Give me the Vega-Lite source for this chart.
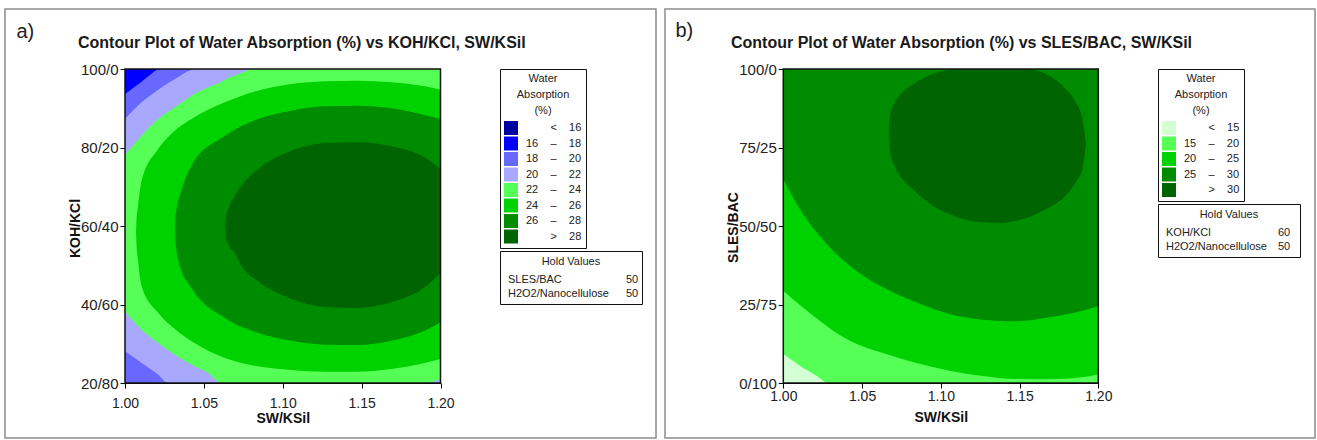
{
  "$schema": "https://vega.github.io/schema/vega-lite/v6.json",
  "background": "white",
  "padding": {"left": 4, "top": 8, "right": 0, "bottom": 0},
  "spacing": 7,
  "resolve": {
    "scale": {"x": "independent", "y": "independent", "color": "independent", "shape": "independent", "strokeDash": "independent"},
    "axis": {"x": "independent", "y": "independent"},
    "legend": {"color": "independent", "shape": "independent", "strokeDash": "independent"}
  },
  "config": {
    "font": "Liberation Sans",
    "view": {"fill": "#eeeae1", "stroke": "#8c8c8c", "strokeWidth": 1.5},
    "axis": {"domainColor": "#000", "tickColor": "#000", "domainWidth": 1, "tickWidth": 1, "labelColor": "#222", "titleColor": "#111", "grid": false}
  },
  "datasets": {
    "contA": [
      {"band": "16 \u2013 18", "sw": 1.0, "lo": 20, "hi": 100},
      {"band": "16 \u2013 18", "sw": 1.2, "lo": 20, "hi": 100},
      {"band": "18 \u2013 20", "sw": 1.0, "lo": 20, "hi": 93.63},
      {"band": "18 \u2013 20", "sw": 1.0053, "lo": 20, "hi": 95.24},
      {"band": "18 \u2013 20", "sw": 1.0105, "lo": 20, "hi": 96.77},
      {"band": "18 \u2013 20", "sw": 1.0158, "lo": 20, "hi": 98.47},
      {"band": "18 \u2013 20", "sw": 1.0222, "lo": 20, "hi": 100},
      {"band": "18 \u2013 20", "sw": 1.2, "lo": 20, "hi": 100},
      {"band": "20 \u2013 22", "sw": 1.0, "lo": 28.07, "hi": 87.26},
      {"band": "20 \u2013 22", "sw": 1.0105, "lo": 25.1, "hi": 91.51},
      {"band": "20 \u2013 22", "sw": 1.0211, "lo": 22.12, "hi": 94.73},
      {"band": "20 \u2013 22", "sw": 1.0274, "lo": 20, "hi": 96.43},
      {"band": "20 \u2013 22", "sw": 1.0316, "lo": 20, "hi": 97.45},
      {"band": "20 \u2013 22", "sw": 1.0454, "lo": 20, "hi": 100},
      {"band": "20 \u2013 22", "sw": 1.2, "lo": 20, "hi": 100},
      {"band": "22 \u2013 24", "sw": 1.0, "lo": 38.26, "hi": 78.09},
      {"band": "22 \u2013 24", "sw": 1.0105, "lo": 33.59, "hi": 83.01},
      {"band": "22 \u2013 24", "sw": 1.0211, "lo": 30.19, "hi": 87.26},
      {"band": "22 \u2013 24", "sw": 1.0316, "lo": 27.22, "hi": 90.23},
      {"band": "22 \u2013 24", "sw": 1.0422, "lo": 24.67, "hi": 93.21},
      {"band": "22 \u2013 24", "sw": 1.0527, "lo": 22.55, "hi": 95.33},
      {"band": "22 \u2013 24", "sw": 1.0612, "lo": 20, "hi": 96.77},
      {"band": "22 \u2013 24", "sw": 1.0633, "lo": 20, "hi": 97.28},
      {"band": "22 \u2013 24", "sw": 1.0738, "lo": 20, "hi": 98.98},
      {"band": "22 \u2013 24", "sw": 1.0812, "lo": 20, "hi": 100},
      {"band": "22 \u2013 24", "sw": 1.1899, "lo": 20, "hi": 100},
      {"band": "22 \u2013 24", "sw": 1.2, "lo": 21.02, "hi": 100},
      {"band": "24 \u2013 26", "sw": 1.007, "lo": 58.39, "hi": 58.39},
      {"band": "24 \u2013 26", "sw": 1.0074, "lo": 54.39, "hi": 62.21},
      {"band": "24 \u2013 26", "sw": 1.008, "lo": 52.02, "hi": 64.33},
      {"band": "24 \u2013 26", "sw": 1.0105, "lo": 44.8, "hi": 71.55},
      {"band": "24 \u2013 26", "sw": 1.0211, "lo": 37.83, "hi": 79.62},
      {"band": "24 \u2013 26", "sw": 1.0316, "lo": 33.76, "hi": 84.29},
      {"band": "24 \u2013 26", "sw": 1.0422, "lo": 30.61, "hi": 87.26},
      {"band": "24 \u2013 26", "sw": 1.0633, "lo": 26.37, "hi": 91.51},
      {"band": "24 \u2013 26", "sw": 1.0844, "lo": 24.24, "hi": 94.48},
      {"band": "24 \u2013 26", "sw": 1.1055, "lo": 23.31, "hi": 96.18},
      {"band": "24 \u2013 26", "sw": 1.1266, "lo": 22.89, "hi": 96.86},
      {"band": "24 \u2013 26", "sw": 1.1477, "lo": 22.89, "hi": 97.03},
      {"band": "24 \u2013 26", "sw": 1.1688, "lo": 23.57, "hi": 96.6},
      {"band": "24 \u2013 26", "sw": 1.1899, "lo": 25.1, "hi": 95.58},
      {"band": "24 \u2013 26", "sw": 1.2, "lo": 26.11, "hi": 94.73},
      {"band": "26 \u2013 28", "sw": 1.0316, "lo": 59.24, "hi": 59.24},
      {"band": "26 \u2013 28", "sw": 1.0318, "lo": 57.11, "hi": 61.36},
      {"band": "26 \u2013 28", "sw": 1.0327, "lo": 53.71, "hi": 64.33},
      {"band": "26 \u2013 28", "sw": 1.0348, "lo": 49.89, "hi": 67.73},
      {"band": "26 \u2013 28", "sw": 1.0422, "lo": 44.2, "hi": 75.37},
      {"band": "26 \u2013 28", "sw": 1.0633, "lo": 36.56, "hi": 83.01},
      {"band": "26 \u2013 28", "sw": 1.0844, "lo": 32.74, "hi": 87.26},
      {"band": "26 \u2013 28", "sw": 1.1055, "lo": 30.78, "hi": 89.38},
      {"band": "26 \u2013 28", "sw": 1.1266, "lo": 29.77, "hi": 90.49},
      {"band": "26 \u2013 28", "sw": 1.1477, "lo": 29.68, "hi": 90.66},
      {"band": "26 \u2013 28", "sw": 1.1688, "lo": 30.78, "hi": 89.98},
      {"band": "26 \u2013 28", "sw": 1.1899, "lo": 33.33, "hi": 88.28},
      {"band": "26 \u2013 28", "sw": 1.2, "lo": 35.46, "hi": 87.26},
      {"band": "> 28", "sw": 1.0633, "lo": 59.91, "hi": 59.91},
      {"band": "> 28", "sw": 1.0639, "lo": 57.54, "hi": 62.21},
      {"band": "> 28", "sw": 1.0654, "lo": 55.41, "hi": 64.33},
      {"band": "> 28", "sw": 1.0696, "lo": 53.12, "hi": 67.73},
      {"band": "> 28", "sw": 1.0738, "lo": 49.89, "hi": 70.28},
      {"band": "> 28", "sw": 1.0844, "lo": 45.9, "hi": 74.52},
      {"band": "> 28", "sw": 1.1055, "lo": 41.4, "hi": 79.19},
      {"band": "> 28", "sw": 1.1266, "lo": 39.36, "hi": 81.15},
      {"band": "> 28", "sw": 1.1477, "lo": 39.11, "hi": 81.32},
      {"band": "> 28", "sw": 1.1688, "lo": 40.55, "hi": 80.3},
      {"band": "> 28", "sw": 1.1899, "lo": 44.37, "hi": 77.49},
      {"band": "> 28", "sw": 1.2, "lo": 48.02, "hi": 74.52}
    ],
    "contB": [
      {"band": "< 15", "sw": 1.0, "lo": 0, "hi": 100},
      {"band": "< 15", "sw": 1.2, "lo": 0, "hi": 100},
      {"band": "15 \u2013 20", "sw": 1.0, "lo": 9.23, "hi": 100},
      {"band": "15 \u2013 20", "sw": 1.0053, "lo": 7.32, "hi": 100},
      {"band": "15 \u2013 20", "sw": 1.0105, "lo": 5.52, "hi": 100},
      {"band": "15 \u2013 20", "sw": 1.0211, "lo": 2.34, "hi": 100},
      {"band": "15 \u2013 20", "sw": 1.0285, "lo": 0, "hi": 100},
      {"band": "15 \u2013 20", "sw": 1.2, "lo": 0, "hi": 100},
      {"band": "20 \u2013 25", "sw": 1.0, "lo": 29.4, "hi": 100},
      {"band": "20 \u2013 25", "sw": 1.0105, "lo": 24.84, "hi": 100},
      {"band": "20 \u2013 25", "sw": 1.0211, "lo": 20.59, "hi": 100},
      {"band": "20 \u2013 25", "sw": 1.0316, "lo": 16.67, "hi": 100},
      {"band": "20 \u2013 25", "sw": 1.0422, "lo": 13.48, "hi": 100},
      {"band": "20 \u2013 25", "sw": 1.0633, "lo": 9.55, "hi": 100},
      {"band": "20 \u2013 25", "sw": 1.0844, "lo": 6.37, "hi": 100},
      {"band": "20 \u2013 25", "sw": 1.1055, "lo": 3.93, "hi": 100},
      {"band": "20 \u2013 25", "sw": 1.1266, "lo": 2.23, "hi": 100},
      {"band": "20 \u2013 25", "sw": 1.1477, "lo": 1.27, "hi": 100},
      {"band": "20 \u2013 25", "sw": 1.1688, "lo": 1.17, "hi": 100},
      {"band": "20 \u2013 25", "sw": 1.1899, "lo": 1.8, "hi": 100},
      {"band": "20 \u2013 25", "sw": 1.2, "lo": 2.76, "hi": 100},
      {"band": "25 \u2013 30", "sw": 1.0, "lo": 64.97, "hi": 100},
      {"band": "25 \u2013 30", "sw": 1.0105, "lo": 55.41, "hi": 100},
      {"band": "25 \u2013 30", "sw": 1.0211, "lo": 47.98, "hi": 100},
      {"band": "25 \u2013 30", "sw": 1.0316, "lo": 42.14, "hi": 100},
      {"band": "25 \u2013 30", "sw": 1.0422, "lo": 37.37, "hi": 100},
      {"band": "25 \u2013 30", "sw": 1.0633, "lo": 30.47, "hi": 100},
      {"band": "25 \u2013 30", "sw": 1.0844, "lo": 25.69, "hi": 100},
      {"band": "25 \u2013 30", "sw": 1.1055, "lo": 21.97, "hi": 100},
      {"band": "25 \u2013 30", "sw": 1.1266, "lo": 20.17, "hi": 100},
      {"band": "25 \u2013 30", "sw": 1.1477, "lo": 19.64, "hi": 100},
      {"band": "25 \u2013 30", "sw": 1.1688, "lo": 20.91, "hi": 100},
      {"band": "25 \u2013 30", "sw": 1.1899, "lo": 23.03, "hi": 100},
      {"band": "25 \u2013 30", "sw": 1.2, "lo": 24.41, "hi": 100},
      {"band": "> 30", "sw": 1.0671, "lo": 79.83, "hi": 79.83},
      {"band": "> 30", "sw": 1.0675, "lo": 75.58, "hi": 84.08},
      {"band": "> 30", "sw": 1.0696, "lo": 70.28, "hi": 88.32},
      {"band": "> 30", "sw": 1.0844, "lo": 60.72, "hi": 95.75},
      {"band": "> 30", "sw": 1.0949, "lo": 56.47, "hi": 98.41},
      {"band": "> 30", "sw": 1.1055, "lo": 53.82, "hi": 99.68},
      {"band": "> 30", "sw": 1.116, "lo": 52.02, "hi": 100},
      {"band": "> 30", "sw": 1.1266, "lo": 51.17, "hi": 100},
      {"band": "> 30", "sw": 1.1371, "lo": 50.95, "hi": 100},
      {"band": "> 30", "sw": 1.1477, "lo": 51.7, "hi": 100},
      {"band": "> 30", "sw": 1.1582, "lo": 53.29, "hi": 99.79},
      {"band": "> 30", "sw": 1.1688, "lo": 55.94, "hi": 97.88},
      {"band": "> 30", "sw": 1.1793, "lo": 59.66, "hi": 93.63},
      {"band": "> 30", "sw": 1.1857, "lo": 63.91, "hi": 89.38},
      {"band": "> 30", "sw": 1.1899, "lo": 68.15, "hi": 84.08},
      {"band": "> 30", "sw": 1.1911, "lo": 71.87, "hi": 80.36},
      {"band": "> 30", "sw": 1.1922, "lo": 76.11, "hi": 76.11}
    ],
    "holdA": [
      {"row": 1, "hold": "SLES/BAC", "value": 50},
      {"row": 2, "hold": "H2O2/Nanocellulose", "value": 50}
    ],
    "holdB": [
      {"row": 1, "hold": "KOH/KCl", "value": 60},
      {"row": 2, "hold": "H2O2/Nanocellulose", "value": 50}
    ]
  },
  "hconcat": [
    {
      "width": 651,
      "height": 429,
      "title": {"text": "Contour Plot of Water Absorption (%) vs KOH/KCl, SW/KSil", "anchor": "start", "frame": "group", "dx": 73, "offset": -55, "baseline": "alphabetic", "fontSize": 16, "fontWeight": "bold", "color": "#1a1a1a"},
      "resolve": {"axis": {"x": "independent"}},
      "layer": [
        {
          "data": {"name": "contA"},
          "encoding": {
            "x": {"field": "sw", "type": "quantitative", "scale": {"domain": [1, 1.2], "range": [120, 435.5], "nice": false, "zero": false},
              "axis": {"orient": "bottom", "values": [1, 1.05, 1.1, 1.15, 1.2], "format": ".2f", "title": "SW/KSil", "offset": -55, "tickSize": 5, "labelPadding": 8, "labelFontSize": 14, "labelFlush": false, "labelOverlap": false, "titleFontSize": 14, "titleFontWeight": "bold", "titleY": 35, "titleBaseline": "middle"}},
            "y": {"field": "hi", "type": "quantitative", "scale": {"domain": [20, 100], "range": [374, 60], "nice": false, "zero": false},
              "axis": {"values": [20, 40, 60, 80, 100], "labelExpr": "datum.value + '/' + (100 - datum.value)", "title": "KOH/KCl", "offset": -120, "tickSize": 5, "labelPadding": 2, "labelFontSize": 15, "labelFlush": false, "labelOverlap": false, "titleFontSize": 14, "titleFontWeight": "bold", "titleX": -50, "titleY": 219, "titleBaseline": "middle"}},
            "y2": {"field": "lo"},
            "color": {"field": "band", "type": "nominal",
              "scale": {"domain": ["< 16", "16 \u2013 18", "18 \u2013 20", "20 \u2013 22", "22 \u2013 24", "24 \u2013 26", "26 \u2013 28", "> 28"],
                "range": ["#0000a0", "#0000ff", "#6868ff", "#a8a8ff", "#55ff55", "#00d200", "#008c00", "#006400"]},
              "legend": {"orient": "none", "legendX": 495, "legendY": 60, "title": ["Water", "Absorption", "(%)"], "titleFontSize": 11, "titleFontWeight": "normal", "titleAlign": "center", "titleAnchor": "middle", "titleLineHeight": 16, "titlePadding": 5, "titleColor": "#222", "fillColor": "white", "strokeColor": "#111", "padding": 4, "symbolType": "square", "symbolSize": 196, "symbolStrokeWidth": 0, "symbolOpacity": 1, "rowPadding": 1.5, "labelOffset": 8, "labelFontSize": 11, "labelColor": "#222",
                "labelExpr": "replace(replace(replace(datum.label, '< ', '\u200b\u00a0\u00a0\u00a0\u00a0\u00a0\u00a0\u00a0\u00a0<\u00a0\u00a0\u00a0\u00a0'), '> ', '\u200b\u00a0\u00a0\u00a0\u00a0\u00a0\u00a0\u00a0\u00a0>\u00a0\u00a0\u00a0\u00a0'), regexp(' ', 'g'), '\u00a0\u00a0\u00a0\u00a0')"}}
          },
          "layer": [
            {"transform": [{"filter": {"field": "band", "equal": "16 \u2013 18"}}], "mark": {"type": "area", "interpolate": "monotone", "opacity": 1}},
            {"transform": [{"filter": {"field": "band", "equal": "18 \u2013 20"}}], "mark": {"type": "area", "interpolate": "monotone", "opacity": 1}},
            {"transform": [{"filter": {"field": "band", "equal": "20 \u2013 22"}}], "mark": {"type": "area", "interpolate": "monotone", "opacity": 1}},
            {"transform": [{"filter": {"field": "band", "equal": "22 \u2013 24"}}], "mark": {"type": "area", "interpolate": "monotone", "opacity": 1}},
            {"transform": [{"filter": {"field": "band", "equal": "24 \u2013 26"}}], "mark": {"type": "area", "interpolate": "monotone", "opacity": 1}},
            {"transform": [{"filter": {"field": "band", "equal": "26 \u2013 28"}}], "mark": {"type": "area", "interpolate": "monotone", "opacity": 1}},
            {"transform": [{"filter": {"field": "band", "equal": "> 28"}}], "mark": {"type": "area", "interpolate": "monotone", "opacity": 1}}
          ]
        },
        {
          "data": {"values": [{}]},
          "mark": {"type": "rect", "filled": false, "stroke": "#111", "strokeWidth": 1.5},
          "encoding": {
            "x": {"datum": 1, "type": "quantitative", "axis": {"orient": "top", "title": "a)", "domain": false, "ticks": false, "labels": false, "grid": false, "titleX": 11, "titleY": 28, "titleAngle": 0, "titleAlign": "left", "titleBaseline": "alphabetic", "titleFontSize": 20, "titleFontWeight": "normal", "titleColor": "#222"}},
            "x2": {"datum": 1.2},
            "y": {"datum": 20, "type": "quantitative"},
            "y2": {"datum": 100}
          }
        },
        {
          "data": {"name": "holdA"},
          "mark": {"type": "point", "opacity": 0},
          "encoding": {
            "shape": {"field": "hold", "type": "nominal", "sort": null,
              "legend": {"orient": "none", "legendX": 495, "legendY": 242, "title": "\u200b\u00a0\u00a0\u00a0\u00a0\u00a0\u00a0\u00a0\u00a0\u00a0\u00a0\u00a0\u00a0Hold Values\u00a0\u00a0\u00a0\u00a0\u00a0\u00a0\u00a0\u00a0\u00a0\u00a0\u00a0\u00a0\u200b", "titleFontSize": 11, "titleFontWeight": "normal", "titleAnchor": "start", "titleAlign": "left", "titlePadding": 7, "titleColor": "#222", "fillColor": "white", "strokeColor": "#111", "padding": 5, "symbolSize": 0, "symbolOpacity": 0, "symbolStrokeWidth": 0, "labelOffset": -8, "labelFontSize": 11, "labelColor": "#222", "rowPadding": 2}},
            "strokeDash": {"field": "row", "type": "ordinal",
              "legend": {"orient": "none", "legendX": 613, "legendY": 260, "title": null, "padding": 5, "symbolSize": 0, "symbolOpacity": 0, "symbolStrokeWidth": 0, "labelOffset": -8, "labelFontSize": 11, "labelColor": "#222", "rowPadding": 2,
                "labelExpr": "data('holdA')[datum.value - 1].value"}}
          }
        }
      ]
    },
    {
      "width": 650,
      "height": 429,
      "title": {"text": "Contour Plot of Water Absorption (%) vs SLES/BAC, SW/KSil", "anchor": "start", "frame": "group", "dx": 66, "offset": -55, "baseline": "alphabetic", "fontSize": 16, "fontWeight": "bold", "color": "#1a1a1a"},
      "resolve": {"axis": {"x": "independent"}},
      "layer": [
        {
          "data": {"name": "contB"},
          "encoding": {
            "x": {"field": "sw", "type": "quantitative", "scale": {"domain": [1, 1.2], "range": [118.3, 433.3], "nice": false, "zero": false},
              "axis": {"orient": "bottom", "values": [1, 1.05, 1.1, 1.15, 1.2], "format": ".2f", "title": "SW/KSil", "offset": -55, "tickSize": 5, "labelPadding": 1, "labelFontSize": 14, "labelFlush": false, "labelOverlap": false, "titleFontSize": 14, "titleFontWeight": "bold", "titleY": 34.5, "titleBaseline": "middle"}},
            "y": {"field": "hi", "type": "quantitative", "scale": {"domain": [0, 100], "range": [374, 60], "nice": false, "zero": false},
              "axis": {"values": [0, 25, 50, 75, 100], "labelExpr": "datum.value + '/' + (100 - datum.value)", "title": "SLES/BAC", "offset": -118.3, "tickSize": 5, "labelPadding": 2, "labelFontSize": 15, "labelFlush": false, "labelOverlap": false, "titleFontSize": 14, "titleFontWeight": "bold", "titleX": -50, "titleY": 218, "titleBaseline": "middle"}},
            "y2": {"field": "lo"},
            "color": {"field": "band", "type": "nominal",
              "scale": {"domain": ["< 15", "15 \u2013 20", "20 \u2013 25", "25 \u2013 30", "> 30"],
                "range": ["#d4ffd4", "#55ff55", "#00d200", "#008c00", "#006400"]},
              "legend": {"orient": "none", "legendX": 493, "legendY": 60, "title": ["Water", "Absorption", "(%)"], "titleFontSize": 11, "titleFontWeight": "normal", "titleAlign": "center", "titleAnchor": "middle", "titleLineHeight": 16, "titlePadding": 5, "titleColor": "#222", "fillColor": "white", "strokeColor": "#111", "padding": 4, "symbolType": "square", "symbolSize": 196, "symbolStrokeWidth": 0, "symbolOpacity": 1, "rowPadding": 1.5, "labelOffset": 8, "labelFontSize": 11, "labelColor": "#222",
                "labelExpr": "replace(replace(replace(datum.label, '< ', '\u200b\u00a0\u00a0\u00a0\u00a0\u00a0\u00a0\u00a0\u00a0<\u00a0\u00a0\u00a0\u00a0'), '> ', '\u200b\u00a0\u00a0\u00a0\u00a0\u00a0\u00a0\u00a0\u00a0>\u00a0\u00a0\u00a0\u00a0'), regexp(' ', 'g'), '\u00a0\u00a0\u00a0\u00a0')"}}
          },
          "layer": [
            {"transform": [{"filter": {"field": "band", "equal": "< 15"}}], "mark": {"type": "area", "interpolate": "monotone", "opacity": 1}},
            {"transform": [{"filter": {"field": "band", "equal": "15 \u2013 20"}}], "mark": {"type": "area", "interpolate": "monotone", "opacity": 1}},
            {"transform": [{"filter": {"field": "band", "equal": "20 \u2013 25"}}], "mark": {"type": "area", "interpolate": "monotone", "opacity": 1}},
            {"transform": [{"filter": {"field": "band", "equal": "25 \u2013 30"}}], "mark": {"type": "area", "interpolate": "monotone", "opacity": 1}},
            {"transform": [{"filter": {"field": "band", "equal": "> 30"}}], "mark": {"type": "area", "interpolate": "monotone", "opacity": 1}}
          ]
        },
        {
          "data": {"values": [{}]},
          "mark": {"type": "rect", "filled": false, "stroke": "#111", "strokeWidth": 1.5},
          "encoding": {
            "x": {"datum": 1, "type": "quantitative", "axis": {"orient": "top", "title": "b)", "domain": false, "ticks": false, "labels": false, "grid": false, "titleX": 10, "titleY": 27, "titleAngle": 0, "titleAlign": "left", "titleBaseline": "alphabetic", "titleFontSize": 20, "titleFontWeight": "normal", "titleColor": "#222"}},
            "x2": {"datum": 1.2},
            "y": {"datum": 0, "type": "quantitative"},
            "y2": {"datum": 100}
          }
        },
        {
          "data": {"name": "holdB"},
          "mark": {"type": "point", "opacity": 0},
          "encoding": {
            "shape": {"field": "hold", "type": "nominal", "sort": null,
              "legend": {"orient": "none", "legendX": 493, "legendY": 195, "title": "\u200b\u00a0\u00a0\u00a0\u00a0\u00a0\u00a0\u00a0\u00a0\u00a0\u00a0\u00a0\u00a0Hold Values\u00a0\u00a0\u00a0\u00a0\u00a0\u00a0\u00a0\u00a0\u00a0\u00a0\u00a0\u00a0\u200b", "titleFontSize": 11, "titleFontWeight": "normal", "titleAnchor": "start", "titleAlign": "left", "titlePadding": 7, "titleColor": "#222", "fillColor": "white", "strokeColor": "#111", "padding": 5, "symbolSize": 0, "symbolOpacity": 0, "symbolStrokeWidth": 0, "labelOffset": -8, "labelFontSize": 11, "labelColor": "#222", "rowPadding": 2}},
            "strokeDash": {"field": "row", "type": "ordinal",
              "legend": {"orient": "none", "legendX": 605, "legendY": 213, "title": null, "padding": 5, "symbolSize": 0, "symbolOpacity": 0, "symbolStrokeWidth": 0, "labelOffset": -8, "labelFontSize": 11, "labelColor": "#222", "rowPadding": 2,
                "labelExpr": "data('holdB')[datum.value - 1].value"}}
          }
        }
      ]
    }
  ]
}
